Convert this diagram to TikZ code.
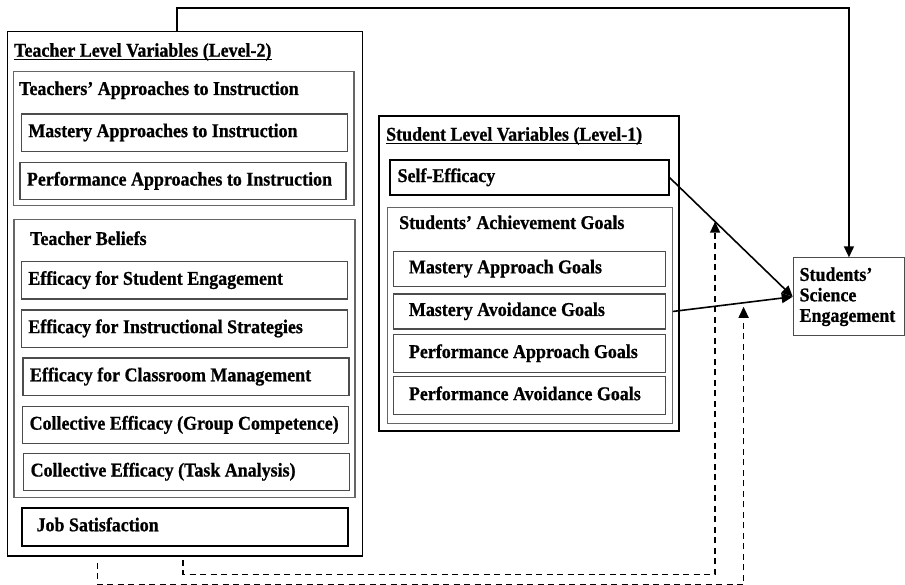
\documentclass[tikz,border=0pt]{standalone}
\usepackage{fontspec}
\setmainfont{Liberation Serif}[FakeStretch=0.92, BoldFeatures={FakeBold=0.8}]
\usetikzlibrary{arrows,arrows.meta,shapes,calc,positioning}
\tikzset{
	fixwide/.style={execute at begin node={\hbox to #1\bgroup}, execute at end node={\hfil\egroup}}
}

\begin{document}
\begin{tikzpicture}[x=1pt,y=-1pt]
		\tikzstyle{every node}=[font=\fontsize{19.5}{20.5}\selectfont\bfseries]
		\tikzstyle{level}=[draw, line width=1.6pt, anchor=north west, inner sep=0pt]
		\tikzstyle{group}=[draw=black!60, line width=1.2pt, anchor=north west, inner sep=0pt]
		\tikzstyle{title}=[anchor=base west, inner sep=0pt]
		\tikzstyle{leaf}=[draw=black!70, line width=1.3pt, anchor=north west, text height=12.5pt, text depth=3.5pt]
		\tikzstyle{key}=[leaf, draw=black, line width=1.8pt]
		\tikzstyle{tbox}=[leaf, inner xsep=7pt, fixwide=312pt]
		\tikzstyle{sbox}=[leaf, inner xsep=15.6pt, fixwide=241pt]
		\tikzstyle{path}=[line width=1.6pt, -{Triangle[length=11pt,width=10pt]}]
		\tikzstyle{mod}=[line width=1.4pt, dash pattern=on 6pt off 4.5pt, -{Triangle[length=11pt,width=10pt]}]
		\useasboundingbox (0,0) rectangle (905,585);
		% level-2 block
		\node [level, minimum width=355pt, minimum height=524.6pt] (teacher) at (6.7,30.7) {};
		\node [title] (teachertitle) at (14,56.7) {Teacher Level Variables (Level-2)};
		\draw [line width=1.3pt] ([yshift=-2.6pt]teachertitle.base west) -- ([yshift=-2.6pt]teachertitle.base east);
		\node [group, minimum width=340.6pt, minimum height=134pt] (approach) at (12.7,71) {};
		\node [title] (approachtitle) at (19,95) {Teachers’ Approaches to Instruction};
		\node [tbox, minimum height=37.4pt] (mai) at (20.7,113.3) {Mastery Approaches to Instruction};
		\node [tbox, minimum height=37.5pt] (pai) at (19.3,161.7) {Performance Approaches to Instruction};
		\node [group, minimum width=341pt, minimum height=277.4pt] (beliefs) at (13.3,219.3) {};
		\node [title] (beliefstitle) at (30,245) {Teacher Beliefs};
		\node [tbox, minimum height=37.3pt] (ese) at (20.7,261) {Efficacy for Student Engagement};
		\node [tbox, minimum height=37.4pt] (eis) at (20.7,309.3) {Efficacy for Instructional Strategies};
		\node [tbox, minimum height=37.7pt] (ecm) at (22.3,357.3) {Efficacy for Classroom Management};
		\node [tbox, minimum height=37pt] (ceg) at (22,406) {Collective Efficacy (Group Competence)};
		\node [tbox, minimum height=37.3pt] (cet) at (23,452.7) {Collective Efficacy (Task Analysis)};
		\node [key, inner xsep=15pt, fixwide=296pt, minimum height=38.3pt] (job) at (20.7,506.7) {Job Satisfaction};
		% level-1 block
		\node [level, minimum width=300pt, minimum height=315pt] (student) at (378.3,115) {};
		\node [title] (studenttitle) at (386,140.7) {Student Level Variables (Level-1)};
		\draw [line width=1.3pt] ([yshift=-2.6pt]studenttitle.base west) -- ([yshift=-2.6pt]studenttitle.base east);
		\node [key, inner xsep=7.7pt, fixwide=263.3pt, minimum height=35.3pt] (selfeff) at (389,159) {Self-Efficacy};
		\node [group, minimum width=285pt, minimum height=216pt] (achieve) at (386.7,206.7) {};
		\node [title] (achievetitle) at (399,229) {Students’ Achievement Goals};
		\node [sbox, minimum height=35pt] (map) at (392.7,250.7) {Mastery Approach Goals};
		\node [sbox, minimum height=35pt] (mav) at (392.7,293.3) {Mastery Avoidance Goals};
		\node [sbox, minimum height=37.7pt] (pap) at (392.7,334) {Performance Approach Goals};
		\node [sbox, minimum height=38pt] (pav) at (392.7,376) {Performance Avoidance Goals};
		% outcome
		\node [draw=black!70, line width=1.2pt, anchor=north west, align=left, inner xsep=6.3pt, text width=98.7pt, minimum height=77.7pt] (engage) at (792.7,257.3) {Students’\\Science\\Engagement};
		% direct paths
		\draw [path] (selfeff.east) -- coordinate[pos=0.37] (m1) (engage.west);
		\draw [path] (mav.east -| achieve.east) -- coordinate[pos=0.59] (m2) (engage.west);
		\draw [path] ([xshift=-8pt]teacher.north) -- ++(0,-22.7) -| (engage.north);
		% cross-level moderation
		\draw [mod, shorten <=3pt] ([xshift=-2pt]teacher.south) -- ++(0,17.4) -| (m1);
		\draw [mod, shorten <=6pt, shorten >=4pt] ([xshift=-87.5pt]teacher.south) -- ++(0,28) -| (m2);
	\end{tikzpicture}
\end{document}
